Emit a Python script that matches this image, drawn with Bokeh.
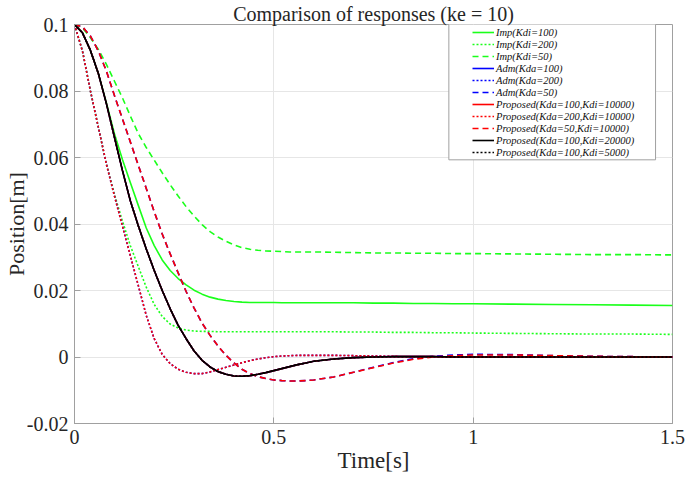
from bokeh.plotting import figure
from bokeh.models import Range1d, FixedTicker, Legend, LegendItem, BoxAnnotation, Title
from bokeh.embed import file_html
from bokeh.resources import INLINE

# ---------------- data ----------------
title_text = "Comparison of responses (ke = 10)"
x_label = "Time[s]"
y_label = "Position[m]"

x_ticks = [0, 0.5, 1, 1.5]
x_tick_labels = ["0", "0.5", "1", "1.5"]
y_ticks = [-0.02, 0, 0.02, 0.04, 0.06, 0.08, 0.1]
y_tick_labels = ["-0.02", "0", "0.02", "0.04", "0.06", "0.08", "0.1"]

t = [0.00, 0.02, 0.04, 0.06, 0.08, 0.10, 0.12, 0.14, 0.16, 0.18,
     0.20, 0.22, 0.24, 0.26, 0.28, 0.30, 0.32, 0.34, 0.36, 0.38,
     0.40, 0.42, 0.44, 0.46, 0.48, 0.50, 0.52, 0.54, 0.56, 0.58,
     0.60, 0.65, 0.70, 0.75, 0.80, 0.85, 0.90, 0.95, 1.00, 1.10,
     1.20, 1.30, 1.40, 1.50]

imp_100 = [0.1000, 0.0975, 0.0922, 0.0852, 0.0765, 0.0672, 0.0595, 0.0525, 0.0456, 0.0388,
           0.0335, 0.0292, 0.0260, 0.0236, 0.0217, 0.0201, 0.0189, 0.0180, 0.0174, 0.0170,
           0.0167, 0.0165, 0.0164, 0.0164, 0.0164, 0.0164, 0.0163, 0.0163, 0.0163, 0.0163,
           0.0163, 0.0163, 0.0163, 0.0162, 0.0162, 0.0161, 0.0161, 0.0160, 0.0160, 0.0159,
           0.0158, 0.0157, 0.0156, 0.0155]

imp_200 = [0.1000, 0.0920, 0.0800, 0.0690, 0.0580, 0.0490, 0.0410, 0.0335, 0.0272, 0.0210,
           0.0158, 0.0122, 0.0099, 0.0087, 0.0081, 0.0078, 0.0077, 0.0077, 0.0076, 0.0076,
           0.0076, 0.0076, 0.0076, 0.0076, 0.0076, 0.0076, 0.0076, 0.0076, 0.0076, 0.0076,
           0.0076, 0.0076, 0.0075, 0.0075, 0.0074, 0.0074, 0.0073, 0.0073, 0.0072, 0.0071,
           0.0070, 0.0069, 0.0069, 0.0068]

imp_50 = [0.1000, 0.0990, 0.0960, 0.0925, 0.0880, 0.0830, 0.0780, 0.0725, 0.0672, 0.0630,
          0.0592, 0.0554, 0.0518, 0.0484, 0.0452, 0.0424, 0.0398, 0.0377, 0.0361, 0.0348,
          0.0337, 0.0329, 0.0324, 0.0321, 0.0319, 0.0318, 0.0317, 0.0316, 0.0316, 0.0316,
          0.0316, 0.0315, 0.0314, 0.0313, 0.0313, 0.0312, 0.0312, 0.0311, 0.0311, 0.0310,
          0.0309, 0.0308, 0.0308, 0.0307]

adm_100 = [0.1000, 0.0975, 0.0922, 0.0852, 0.0762, 0.0662, 0.0562, 0.0470, 0.0395, 0.0325,
           0.0260, 0.0200, 0.0145, 0.0095, 0.0055, 0.0018, -0.0010, -0.0030, -0.0044, -0.0052,
           -0.0057, -0.0058, -0.0056, -0.0052, -0.0047, -0.0041, -0.0035, -0.0029, -0.0023, -0.0018,
           -0.0013, -0.0006, -0.0002, 0.0000, 0.0001, 0.0001, 0.0001, 0.0000, 0.0000, 0.0000,
           0.0000, 0.0000, 0.0000, 0.0000]

adm_200 = [0.1000, 0.0920, 0.0800, 0.0690, 0.0580, 0.0485, 0.0395, 0.0305, 0.0215, 0.0125,
           0.0055, 0.0008, -0.0020, -0.0037, -0.0046, -0.0050, -0.0050, -0.0045, -0.0038, -0.0031,
           -0.0024, -0.0017, -0.0011, -0.0006, -0.0002, 0.0001, 0.0003, 0.0004, 0.0005, 0.0005,
           0.0005, 0.0005, 0.0004, 0.0003, 0.0002, 0.0001, 0.0001, 0.0000, 0.0000, 0.0000,
           0.0000, 0.0000, 0.0000, 0.0000]

adm_50 = [0.1000, 0.0993, 0.0965, 0.0920, 0.0860, 0.0787, 0.0717, 0.0647, 0.0577, 0.0507,
          0.0437, 0.0370, 0.0310, 0.0253, 0.0197, 0.0147, 0.0102, 0.0065, 0.0033, 0.0005,
          -0.0018, -0.0037, -0.0050, -0.0059, -0.0065, -0.0069, -0.0071, -0.0072, -0.0072, -0.0071,
          -0.0069, -0.0060, -0.0046, -0.0031, -0.0017, -0.0005, 0.0002, 0.0006, 0.0008, 0.0007,
          0.0004, 0.0002, 0.0001, 0.0000]

prop_100_10000 = list(adm_100)
prop_200_10000 = list(adm_200)
prop_50_10000 = [0.1000, 0.0993, 0.0965, 0.0920, 0.0860, 0.0787, 0.0717, 0.0647, 0.0577, 0.0507,
                 0.0437, 0.0370, 0.0310, 0.0253, 0.0197, 0.0147, 0.0102, 0.0065, 0.0033, 0.0005,
                 -0.0018, -0.0037, -0.0050, -0.0059, -0.0065, -0.0069, -0.0071, -0.0072, -0.0072, -0.0071,
                 -0.0069, -0.0060, -0.0046, -0.0032, -0.0018, -0.0007, 0.0000, 0.0004, 0.0006, 0.0006,
                 0.0004, 0.0002, 0.0001, 0.0000]
prop_100_20000 = list(adm_100)
prop_100_5000 = list(adm_100)

series_labels = ["Imp(Kdi=100)", "Imp(Kdi=200)", "Imp(Kdi=50)",
                 "Adm(Kda=100)", "Adm(Kda=200)", "Adm(Kda=50)",
                 "Proposed(Kda=100,Kdi=10000)", "Proposed(Kda=200,Kdi=10000)",
                 "Proposed(Kda=50,Kdi=10000)", "Proposed(Kda=100,Kdi=20000)",
                 "Proposed(Kda=100,Kdi=5000)"]
series_values = [imp_100, imp_200, imp_50, adm_100, adm_200, adm_50,
                 prop_100_10000, prop_200_10000, prop_50_10000, prop_100_20000, prop_100_5000]

# ---------------- styles ----------------
GREEN = "#1aff1a"
styles = [
    (GREEN, "solid"), (GREEN, "2 2"), (GREEN, "6 4"),
    ("#0000ff", "solid"), ("#0000ff", "2 2"), ("#0000ff", "6 4"),
    ("#ff0000", "solid"), ("#ff0000", "2 2"), ("#ff0000", "6 4"),
    ("#000000", "solid"), ("#000000", "2 2"),
]

SERIF = "Liberation Serif"
AX_COL = "#a0a0a0"
TXT_COL = "#262626"

p = figure(width=685, height=481, output_backend="svg", toolbar_location=None,
           x_range=Range1d(0, 1.5), y_range=Range1d(-0.02, 0.1),
           min_border_left=73, min_border_right=13, min_border_top=24, min_border_bottom=58)
p.title = Title(text=title_text, align="center", text_font=SERIF, text_font_size="20px",
                text_font_style="normal", text_color=TXT_COL, standoff=-1)
p.background_fill_color = "white"
p.border_fill_color = "white"
p.outline_line_color = AX_COL
p.outline_line_width = 1

for ax in (p.xaxis[0], p.yaxis[0]):
    ax.axis_line_color = AX_COL
    ax.major_tick_line_color = AX_COL
    ax.major_tick_in = 6
    ax.major_tick_out = 0
    ax.minor_tick_line_color = None
    ax.major_label_text_font = SERIF
    ax.major_label_text_font_size = "20px"
    ax.major_label_text_color = TXT_COL
    ax.major_label_standoff = 6
    ax.axis_label_text_font = SERIF
    ax.axis_label_text_font_style = "normal"
    ax.axis_label_text_color = TXT_COL

p.xaxis[0].axis_label = x_label
p.yaxis[0].axis_label = y_label
p.xaxis[0].axis_label_text_font_size = "23px"
p.yaxis[0].axis_label_text_font_size = "22px"
p.xaxis[0].axis_label_standoff = 1
p.yaxis[0].axis_label_standoff = -5

p.xaxis[0].ticker = FixedTicker(ticks=x_ticks)
p.yaxis[0].ticker = FixedTicker(ticks=y_ticks)
p.xaxis[0].major_label_overrides = {v: s for v, s in zip(x_ticks, x_tick_labels)}
p.yaxis[0].major_label_overrides = {v: s for v, s in zip(y_ticks, y_tick_labels)}

p.xgrid.ticker = FixedTicker(ticks=x_ticks)
p.ygrid.ticker = FixedTicker(ticks=y_ticks)
p.grid.grid_line_color = "#e6e6e6"
p.grid.grid_line_width = 1

renderers = []
for vals, (col, dash) in zip(series_values, styles):
    r = p.line(t, vals, line_color=col, line_width=1.6, line_dash=dash)
    renderers.append(r)

# legend box (MATLAB style)
box = BoxAnnotation(left=0.939, right=1.4575, top=0.1003, bottom=0.0593,
                    fill_color="white", fill_alpha=1.0, line_color=AX_COL, line_width=1,
                    line_alpha=1.0)
p.add_layout(box)

legend = Legend(items=[LegendItem(label=lab, renderers=[r]) for lab, r in zip(series_labels, renderers)],
                location=(396, 263), padding=2, spacing=0, margin=0,
                label_height=12, glyph_height=12, glyph_width=22, label_standoff=2,
                border_line_alpha=0, background_fill_alpha=0,
                label_text_font=SERIF, label_text_font_style="italic",
                label_text_font_size="10.5px", label_text_color="#111111")
p.add_layout(legend)

open("out.html", "w").write(file_html(p, INLINE))
